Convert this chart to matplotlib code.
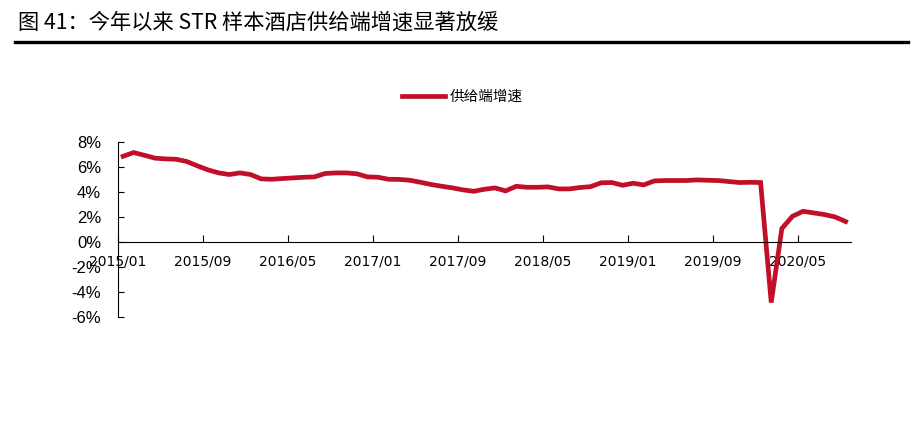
import matplotlib
matplotlib.use("Agg")
import matplotlib.pyplot as plt
from matplotlib.lines import Line2D
import numpy as np

# monthly supply growth, 2015/01 .. 2020/09 (%)
months = [f"{2015 + k // 12}/{k % 12 + 1:02d}" for k in range(69)]
supply_growth = [
    6.85, 7.15, 6.93, 6.70, 6.64, 6.61, 6.43, 6.08, 5.76, 5.52,
    5.39, 5.52, 5.39, 5.04, 5.01, 5.07, 5.12, 5.17, 5.20, 5.47,
    5.52, 5.52, 5.45, 5.20, 5.17, 5.01, 5.00, 4.93, 4.77, 4.59,
    4.45, 4.32, 4.16, 4.05, 4.21, 4.32, 4.08, 4.45, 4.37, 4.37,
    4.40, 4.24, 4.24, 4.35, 4.42, 4.73, 4.75, 4.53, 4.69, 4.56,
    4.88, 4.91, 4.91, 4.91, 4.96, 4.93, 4.91, 4.83, 4.75, 4.77,
    4.75, -4.85, 1.07, 2.05, 2.45, 2.32, 2.19, 2.00, 1.63,
]
tick_every = 8
y_ticks = [-6, -4, -2, 0, 2, 4, 6, 8]

red = "#C00F26"
cjk = ["Noto Sans CJK SC", "DejaVu Sans"]
latin = "Liberation Sans"

fig = plt.figure(figsize=(9.13, 4.30), dpi=100)
ax = fig.add_axes([0.129, 0.263, 0.803, 0.407])

x = np.arange(len(supply_growth))
ax.plot(x, supply_growth, color=red, lw=3.4, solid_joinstyle="miter",
        label="供给端增速")

ax.set_xlim(-0.5, len(supply_growth) - 0.5)
ax.set_ylim(-6, 8)
ax.set_yticks(y_ticks)
ax.set_yticklabels([f"{v}%" for v in y_ticks], fontsize=12, family=latin)
tick_pos = x[::tick_every]
ax.set_xticks(tick_pos - 0.5)
ax.set_xticklabels([months[i] for i in tick_pos], fontsize=12.5, family=latin)

ax.spines["top"].set_visible(False)
ax.spines["right"].set_visible(False)
ax.spines["bottom"].set_position(("data", 0))
for s in ("left", "bottom"):
    ax.spines[s].set_linewidth(0.8)
ax.tick_params(axis="x", direction="in", length=5, width=0.8, pad=9)
ax.tick_params(axis="y", direction="in", length=4, width=0.8, pad=12)

ax.legend(loc="center", bbox_to_anchor=(0.47, 1.257), frameon=False,
          prop={"family": cjk, "size": 10.5}, handlelength=3.0,
          handletextpad=0.3)

fig.text(0.02, 0.948, "图 41：今年以来 STR 样本酒店供给端增速显著放缓",
         fontsize=15.3, family=cjk, va="center", ha="left")
fig.add_artist(Line2D([0.016, 0.995], [0.902, 0.902], color="black", lw=2.4,
                      transform=fig.transFigure))

fig.savefig("out.png", dpi=100)
